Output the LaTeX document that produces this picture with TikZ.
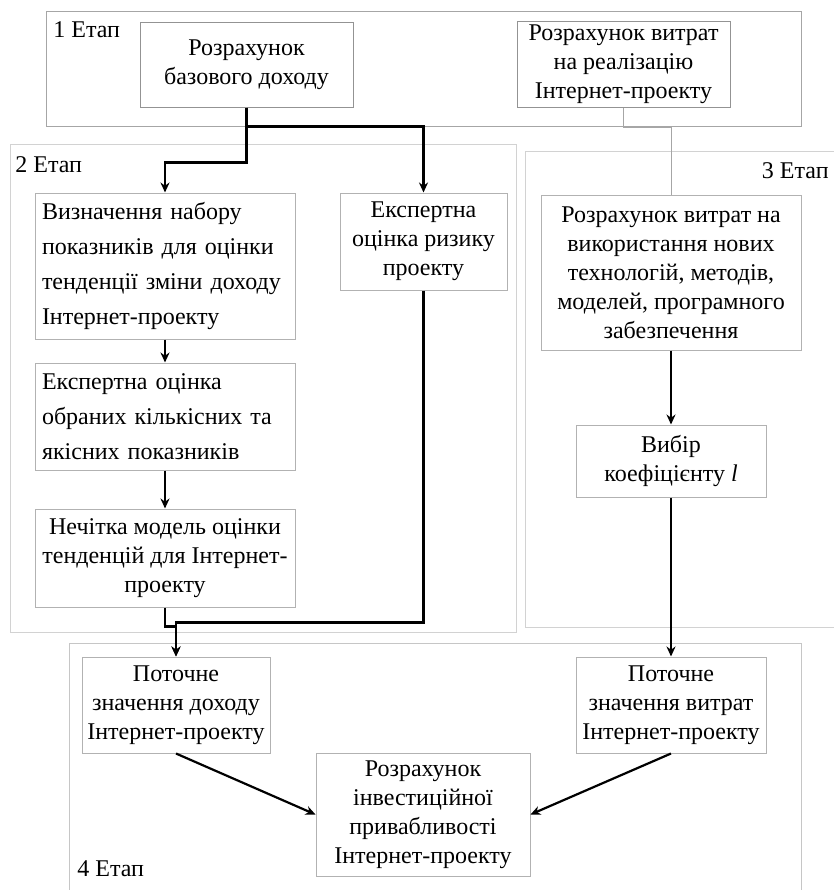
\documentclass[tikz,border=0pt]{standalone}
\usepackage{fontspec}
\setmainfont{Liberation Serif}
\usetikzlibrary{arrows.meta}

\tikzset{
  stagebox/.style = {draw = gray!55, line width = .4pt},
  stagelabel/.style = {font = \fontsize{12}{14.5}\selectfont, inner sep = 0pt},
  procbox/.style = {draw = gray!60, line width = .5pt, align = center,
    font = \fontsize{12}{14.5}\selectfont, inner sep = 2pt},
  leftbox/.style = {procbox, align = left, text width = 123pt,
    inner xsep = 3.5pt, font = \fontsize{12}{17.5}\selectfont},
  arr/.style = {-{Stealth[length = 5pt, width = 4.5pt]}, line width = 1.1pt},
  thinline/.style = {draw = gray!70, line width = .5pt}
}

\begin{document}
\begin{tikzpicture}[x = .5pt, y = -.5pt]
  \useasboundingbox (0,0) rectangle (834,890);

  % stage frames
  \draw [stagebox, draw = gray!70] (46,11) rectangle (801,126);
  \draw [stagebox, draw = gray!35] (10,144) rectangle (516,632);
  \draw [stagebox, draw = gray!35] (834,151) -- (525,151) -- (525,627) -- (834,627);
  \draw [stagebox, draw = gray!45] (69,890) -- (69,643) -- (801,643) -- (801,890);

  \node [stagelabel, anchor = west] (st1) at (53,30) {1 Етап};
  \node [stagelabel, anchor = west] (st2) at (15,165) {2 Етап};
  \node [stagelabel, anchor = east] (st3) at (829,171) {3 Етап};
  \node [stagelabel, anchor = west] (st4) at (77,869) {4 Етап};

  % stage 1
  \node [procbox, draw = gray!85, minimum width = 106.5pt, minimum height = 42.5pt]
    (base) at (246.5,64.5) {Розрахунок\\базового доходу};
  \node [procbox, draw = gray!85, minimum width = 106.5pt, minimum height = 42.5pt]
    (cost) at (623.5,64.5) {Розрахунок витрат\\на реалізацію\\Інтернет-проекту};

  % stage 2
  \node [leftbox, minimum height = 73pt] (set) at (165,266)
    {Визначення набору\\показників для оцінки\\тенденції зміни доходу\\Інтернет-проекту};
  \node [procbox, minimum width = 83.5pt, minimum height = 48.5pt] (risk) at (423.5,241.5)
    {Експертна\\оцінка ризику\\проекту};
  \node [leftbox, minimum height = 53.5pt] (expert) at (165,416.5)
    {Експертна оцінка\\обраних кількісних та\\якісних показників};
  \node [procbox, minimum width = 130pt, minimum height = 49pt] (fuzzy) at (165,558)
    {Нечітка модель оцінки\\тенденцій для Інтернет-\\проекту};

  % stage 3
  \node [procbox, minimum width = 130pt, minimum height = 77.5pt] (tech) at (671,272.5)
    {Розрахунок витрат на\\використання нових\\технологій, методів,\\моделей, програмного\\забезпечення};
  \node [procbox, minimum width = 95pt, minimum height = 36pt] (coef) at (671,461)
    {Вибір\\коефіцієнту \textit{l}};

  % stage 4
  \node [procbox, minimum width = 94pt, minimum height = 48pt] (income) at (176,705)
    {Поточне\\значення доходу\\Інтернет-проекту};
  \node [procbox, minimum width = 95pt, minimum height = 48pt] (costs) at (671,705)
    {Поточне\\значення витрат\\Інтернет-проекту};
  \node [procbox, minimum width = 107pt, minimum height = 61.5pt] (invest) at (423,814.5)
    {Розрахунок\\інвестиційної\\привабливості\\Інтернет-проекту};

  % connectors
  \draw [arr] (base.south) -- ++(0,55) -| (set.north);
  \draw [arr] (base.south) -- ++(0,19) -| (risk.north);
  \draw [arr] (set.south) -- (expert.north);
  \draw [arr] (expert.south) -- (fuzzy.north);
  \draw [arr] (fuzzy.south) -- ++(0,19) -| (income.north);
  \draw [arr] (risk.south) -- ++(0,332) -| (income.north);
  \draw [thinline] (cost.south) -- ++(0,19) -| (tech.north);
  \draw [arr] (tech.south) -- (coef.north);
  \draw [arr] (coef.south) -- (costs.north);
  \draw [arr] (income.south) -- (invest.west);
  \draw [arr] (costs.south) -- (invest.east);
\end{tikzpicture}
\end{document}
